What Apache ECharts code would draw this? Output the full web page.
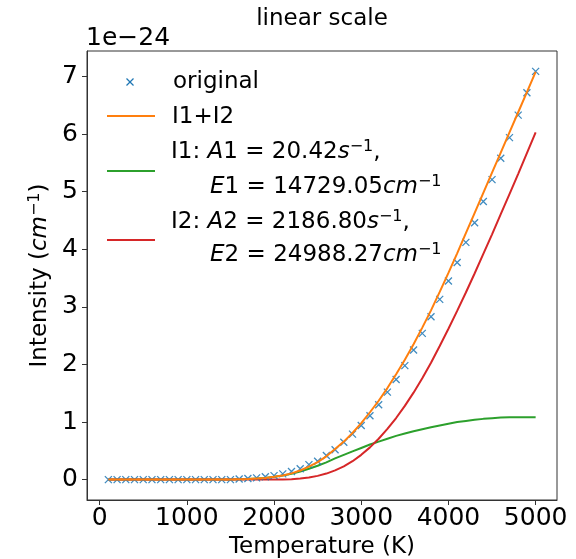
<!DOCTYPE html>
<html>
<head>
<meta charset="utf-8">
<script src="https://cdn.jsdelivr.net/npm/echarts@6/dist/echarts.min.js"></script>
<style>
	html, body { margin: 0; padding: 0; background: #fff; }
	#chart-area { width: 576px; height: 559px; }
</style>
</head>
<body>
<div id="chart-area"></div>
<script>
// temperatures (K)
var temps = [100, 200, 300, 400, 500, 600, 700, 800, 900, 1000,
	1100, 1200, 1300, 1400, 1500, 1600, 1700, 1800, 1900, 2000,
	2100, 2200, 2300, 2400, 2500, 2600, 2700, 2800, 2900, 3000,
	3100, 3200, 3300, 3400, 3500, 3600, 3700, 3800, 3900, 4000,
	4100, 4200, 4300, 4400, 4500, 4600, 4700, 4800, 4900, 5000];
// intensities, in units of 1e-24 cm^-1
var original = [0, 0, 0, 0, 0, 0, 0, 0, 0, 0,
	0, 0, 0, 0, 0, 0.01, 0.02, 0.03, 0.05, 0.07,
	0.10, 0.14, 0.19, 0.26, 0.32, 0.42, 0.52, 0.65, 0.79, 0.94,
	1.11, 1.30, 1.52, 1.74, 1.98, 2.25, 2.54, 2.83, 3.13, 3.45,
	3.77, 4.12, 4.46, 4.83, 5.21, 5.58, 5.94, 6.33, 6.72, 7.09];
var sumFit = [0, 0, 0, 0, 0, 0, 0, 0, 0, 0,
	0, 0, 0, 0, 0, 0.005, 0.01, 0.02, 0.03, 0.051,
	0.073, 0.108, 0.158, 0.225, 0.305, 0.405, 0.53, 0.66, 0.81, 0.98,
	1.17, 1.37, 1.59, 1.83, 2.08, 2.35, 2.64, 2.94, 3.26, 3.59,
	3.93, 4.28, 4.63, 4.98, 5.33, 5.68, 6.03, 6.38, 6.73, 7.08];
var fit1 = [0, 0, 0, 0, 0, 0, 0, 0, 0, 0,
	0, 0, 0, 0, 0, 0.005, 0.01, 0.02, 0.03, 0.05,
	0.07, 0.10, 0.14, 0.19, 0.24, 0.30, 0.37, 0.43, 0.49, 0.55,
	0.61, 0.66, 0.71, 0.76, 0.80, 0.84, 0.875, 0.91, 0.94, 0.97,
	1.00, 1.02, 1.04, 1.055, 1.067, 1.077, 1.082, 1.085, 1.085, 1.083];
var fit2 = [0, 0, 0, 0, 0, 0, 0, 0, 0, 0,
	0, 0, 0, 0, 0, 0, 0, 0, 0, 0.001,
	0.003, 0.008, 0.018, 0.035, 0.065, 0.105, 0.16, 0.23, 0.32, 0.43,
	0.56, 0.71, 0.88, 1.07, 1.28, 1.51, 1.76, 2.03, 2.32, 2.62,
	2.93, 3.25, 3.58, 3.92, 4.26, 4.61, 4.96, 5.31, 5.67, 6.03];
var xTicks = [0, 1000, 2000, 3000, 4000, 5000];
var yTicks = [0, 1, 2, 3, 4, 5, 6, 7];

var FONT = 'DejaVu Sans';
var BLUE = '#1f77b4', ORANGE = '#ff7f0e', GREEN = '#2ca02c', RED = '#d62728';
var TXT = 23, TICK = 25;

function pairs(ys) {
	var out = [];
	for (var i = 0; i < temps.length; i++) out.push([temps[i], ys[i]]);
	return out;
}

var richMath = {
	r: { fontFamily: FONT, fontSize: TXT, color: '#000' },
	e: { fontFamily: FONT, fontSize: TXT, color: '#000', width: 34, align: 'center' },
	i: { fontFamily: FONT, fontSize: TXT, fontStyle: 'italic', color: '#000' },
	s: { fontFamily: FONT, fontSize: 16, color: '#000', verticalAlign: 'top', padding: [0, 0, 10, 0] }
};

function legendText(x, y, txt) {
	return {
		type: 'text', x: x, y: y,
		style: { text: txt, rich: richMath, font: TXT + 'px ' + FONT, fill: '#000', verticalAlign: 'middle' }
	};
}
function seg(x1, y1, x2, y2, color, w) {
	return {
		type: 'line', shape: { x1: x1, y1: y1, x2: x2, y2: y2 },
		style: { stroke: color, lineWidth: w }
	};
}
function plain(v) { return String(v); }

var myChart = echarts.init(document.getElementById('chart-area'), null, { renderer: 'canvas' });
var option = {
	animation: false,
	textStyle: { fontFamily: FONT },
	grid: { left: 87, right: 19, top: 51, bottom: 59, show: true, borderColor: '#333', borderWidth: 1,
		containLabel: false, outerBoundsMode: 'none' },
	xAxis: {
		type: 'value', min: -145, max: 5245,
		name: 'Temperature (K)', nameLocation: 'middle', nameGap: 36,
		nameTextStyle: { fontSize: TXT, color: '#000', fontFamily: FONT },
		axisLine: { show: true, onZero: false, lineStyle: { color: '#333' } },
		splitLine: { show: false },
		axisTick: { show: true, inside: false, length: 5, customValues: xTicks, lineStyle: { color: '#333' } },
		axisLabel: { customValues: xTicks, fontSize: TICK, color: '#000', margin: 6, fontFamily: FONT, formatter: plain }
	},
	yAxis: {
		type: 'value', min: -0.354, max: 7.444,
		name: '{r|Intensity (}{i|cm}{s|−1}{r|)}', nameLocation: 'middle', nameGap: 34,
		nameTextStyle: { fontSize: TXT, color: '#000', fontFamily: FONT, rich: richMath },
		axisLine: { show: true, onZero: false, lineStyle: { color: '#333' } },
		splitLine: { show: false },
		axisTick: { show: true, inside: false, length: 5, customValues: yTicks, lineStyle: { color: '#333' } },
		axisLabel: { customValues: yTicks, fontSize: TICK, color: '#000', margin: 9, fontFamily: FONT, formatter: plain }
	},
	series: [
		{
			name: 'original', type: 'scatter', data: pairs(original),
			symbol: 'path://M0,0L10,10M10,0L0,10', symbolSize: 7,
			itemStyle: { color: 'none', borderColor: BLUE, borderWidth: 1.3, opacity: 0.85 },
			z: 3
		},
		{
			name: 'I1+I2', type: 'line', data: pairs(sumFit), showSymbol: false,
			lineStyle: { color: ORANGE, width: 2 }, z: 4
		},
		{
			name: 'I1', type: 'line', data: pairs(fit1), showSymbol: false,
			lineStyle: { color: GREEN, width: 2 }, z: 2
		},
		{
			name: 'I2', type: 'line', data: pairs(fit2), showSymbol: false,
			lineStyle: { color: RED, width: 2 }, z: 2
		}
	],
	graphic: [
		{ type: 'text', x: 322, y: 19,
			style: { text: 'linear scale', font: TXT + 'px ' + FONT, fill: '#000', align: 'center', verticalAlign: 'middle' } },
		{ type: 'text', x: 86, y: 38,
			style: { text: '1e−24', font: TICK + 'px ' + FONT, fill: '#000', align: 'left', verticalAlign: 'middle' } },
		seg(126.5, 78.5, 133.5, 85.5, BLUE, 1.3),
		seg(133.5, 78.5, 126.5, 85.5, BLUE, 1.3),
		seg(107, 116, 155, 116, ORANGE, 2),
		seg(107, 171, 155, 171, GREEN, 2),
		seg(107, 240, 155, 240, RED, 2),
		legendText(173, 82, '{r|original}'),
		legendText(172, 117, '{r|I1+I2}'),
		legendText(171, 152, '{r|I1: }{i|A}{r|1}{e|=}{r|20.42}{i|s}{s|−1}{r|,}'),
		legendText(210, 187, '{i|E}{r|1}{e|=}{r|14729.05}{i|cm}{s|−1}'),
		legendText(171, 222, '{r|I2: }{i|A}{r|2}{e|=}{r|2186.80}{i|s}{s|−1}{r|,}'),
		legendText(210, 255, '{i|E}{r|2}{e|=}{r|24988.27}{i|cm}{s|−1}')
	]
};
myChart.setOption(option);
</script>
</body>
</html>
